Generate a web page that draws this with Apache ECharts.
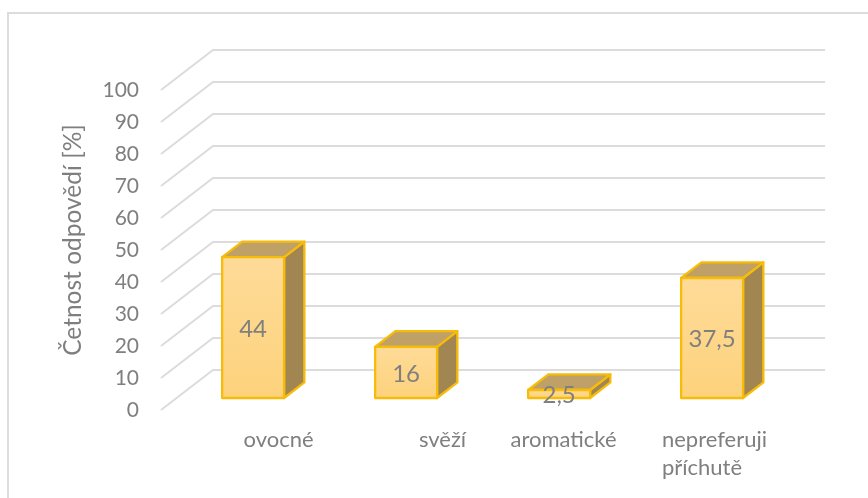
<!DOCTYPE html>
<html><head><meta charset="utf-8">
<style>html,body{margin:0;padding:0;background:#fff}#c{width:868px;height:498px}</style>
<script src="https://cdn.jsdelivr.net/npm/echarts@6/dist/echarts.min.js"></script>
</head><body><div id="c"></div>
<script>
const categories = ['ovocné', 'svěží', 'aromatické', 'nepreferuji\npříchutě'];
const values = [44, 16, 2.5, 37.5];
const yTicks = [0, 10, 20, 30, 40, 50, 60, 70, 80, 90, 100];
const axisTitle = 'Četnost odpovědí [%]';
const labelShift = [82, 104, 40, 36];

const DX = 52, DY = -40;           // floor depth in pixels
const FONT = 'Lato';
const GREY = '#7f7f7f';
const shade = (a, b) => new echarts.graphic.LinearGradient(0, 0, 0, 1, [{offset: 0, color: a}, {offset: 1, color: b}]);

const chart = echarts.init(document.getElementById('c'), null, {renderer: 'canvas'});
chart.setOption({
  animation: false,
  backgroundColor: '#fff',
  grid: {left: 161, right: 95, top: 90, bottom: 88, containLabel: false},
  graphic: [{type: 'polyline', shape: {points: [[8, 498], [8, 13], [868, 13]]}, style: {fill: null, stroke: '#dcdcdc', lineWidth: 2}, z: 0}],
  xAxis: {
    type: 'category', data: categories,
    axisLine: {show: false}, axisTick: {show: false}, splitLine: {show: false},
    axisLabel: {
      margin: 16, interval: 0, color: GREY, fontFamily: FONT, fontSize: 22, lineHeight: 28, align: 'center', verticalAlign: 'top',
      formatter: (v, i) => v.split('\n').map(s => `{c${i}|${s}}`).join('\n'),
      rich: Object.fromEntries(labelShift.map((s, i) => ['c' + i, {
        color: GREY, fontFamily: FONT, fontSize: 22, lineHeight: 28, align: 'left', padding: [0, 0, 0, s]
      }]))
    }
  },
  yAxis: {
    type: 'value', min: 0, max: 100, interval: 10,
    name: axisTitle, nameLocation: 'middle', nameGap: 75, nameRotate: 90,
    nameTextStyle: {color: GREY, fontFamily: FONT, fontSize: 24.5, padding: [0, 0, 0, 20]},
    axisLine: {show: false}, axisTick: {show: false}, splitLine: {show: false},
    axisLabel: {margin: 22, color: GREY, fontFamily: FONT, fontSize: 21, padding: [4, 0, 0, 0]}
  },
  series: [
    {
      type: 'custom', coordinateSystem: 'cartesian2d', silent: true, z: 1, clip: false,
      data: yTicks.map(v => [0, v]),
      renderItem: (params, api) => {
        const y = api.coord([0, api.value(1)])[1], cs = params.coordSys;
        return {
          type: 'polyline',
          shape: {points: [[cs.x, y], [cs.x + DX, y + DY], [cs.x + cs.width + DX, y + DY]]},
          style: {fill: null, stroke: '#dcdcdc', lineWidth: 2}
        };
      }
    },
    {
      type: 'custom', coordinateSystem: 'cartesian2d', silent: true, z: 2, clip: false,
      data: values.map((v, i) => [i, v]),
      renderItem: (params, api) => {
        const i = api.value(0), v = api.value(1);
        const band = api.size([1, 0])[0], w = band * 0.405;
        const top = api.coord([i, v]), base = api.coord([i, 0]);
        const ox = DX * 0.3, oy = DY * 0.3, bx = DX * 0.39, by = DY * 0.39;
        const l = top[0] - w / 2 + ox, r = l + w, t = top[1] + oy, b = base[1] + oy;
        const edge = {stroke: '#f7bc0a', lineWidth: 2.3, lineJoin: 'round'};
        return {
          type: 'group',
          children: [
            {type: 'polygon', shape: {points: [[r, t], [r + bx, t + by], [r + bx, b + by], [r, b]]},
             style: {fill: '#a18652', ...edge}},
            {type: 'polygon', shape: {points: [[l, t], [l + bx, t + by], [r + bx, t + by], [r, t]]},
             style: {fill: '#bfa067', ...edge}},
            {type: 'rect', shape: {x: l, y: t, width: w, height: b - t},
             style: {fill: shade('#fedb98', '#fdd27c'), ...edge}},
            {type: 'text', x: (l + r) / 2, y: (t + b) / 2 + 1.5,
             style: {text: String(v).replace('.', ','), fill: GREY, font: '24px ' + FONT, textAlign: 'center', textVerticalAlign: 'middle'}}
          ]
        };
      }
    }
  ]
});
</script></body></html>
